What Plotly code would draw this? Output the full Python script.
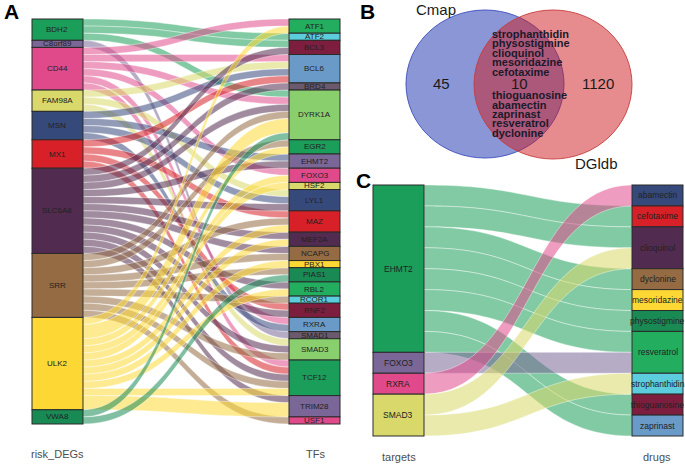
import plotly.graph_objects as go

W, H = 685, 466
FONT = "Liberation Sans, Arial, sans-serif"

# ---------------- palette (cycled over nodes) ----------------
PAL = ["#1B9E5A", "#7A6797", "#E04A8B", "#D9D86A", "#36497B", "#D72027",
       "#522B50", "#946B43", "#FDD835", "#1A8A55", "#22AD5F", "#5BCDDD",
       "#7E1E3F", "#6A9BC8", "#6B5A6E", "#8ACF6E"]

# ---------------- Panel A data ----------------
risk_degs = ["BDH2", "C8orf89", "CD44", "FAM98A", "MSN", "MX1", "SLC6A8", "SRR", "ULK2", "VWA8"]
tfs = ["ATF1", "ATF2", "BCL3", "BCL6", "BRD4", "DYRK1A", "EGR2", "EHMT2", "FOXO3", "HSF2",
       "LYL1", "MAZ", "MEF2A", "NCAPG", "PBX1", "PIAS1", "RBL2", "RCOR1", "RNF2", "RXRA",
       "SMAD1", "SMAD3", "TCF12", "TRIM28", "USF1"]

a_src = (["BDH2"] * 3 + ["C8orf89"] + ["CD44"] * 6 + ["FAM98A"] * 3 + ["MSN"] * 4 +
         ["MX1"] * 4 + ["SLC6A8"] * 12 + ["SRR"] * 9 + ["ULK2"] * 11 + ["VWA8"] * 2)
a_tgt = ["ATF2", "BCL3", "DYRK1A",
         "SMAD1",
         "ATF1", "BCL6", "DYRK1A", "FOXO3", "RXRA", "TCF12",
         "BCL6", "LYL1", "SMAD3",
         "BCL6", "EHMT2", "LYL1", "RXRA",
         "BCL6", "MAZ", "RNF2", "TCF12",
         "BCL3", "BRD4", "DYRK1A", "EHMT2", "LYL1", "MEF2A", "NCAPG", "RBL2", "RNF2", "SMAD3", "TCF12", "TRIM28",
         "DYRK1A", "EGR2", "MAZ", "NCAPG", "PIAS1", "RCOR1", "SMAD3", "TCF12", "USF1",
         "ATF1", "DYRK1A", "EGR2", "FOXO3", "HSF2", "MAZ", "MEF2A", "PBX1", "RBL2", "TCF12", "TRIM28",
         "DYRK1A", "PIAS1"]
a_val = ([1] * 3 + [1] + [1] * 6 + [1] * 3 + [1] * 4 + [1] * 4 + [1] * 12 + [1] * 9 +
         [1, 2, 1, 1, 1, 1, 1, 1, 1, 1, 2] + [1] * 2)

# ---------------- Panel C data ----------------
targets = ["EHMT2", "FOXO3", "RXRA", "SMAD3"]
drugs = ["abamectin", "cefotaxime", "clioquinol", "dyclonine", "mesoridazine",
         "physostigmine", "resveratrol", "strophanthidin", "thioguanosine", "zaprinast"]
c_src = ["EHMT2"] * 8 + ["FOXO3", "RXRA", "SMAD3", "SMAD3"]
c_tgt = ["cefotaxime", "clioquinol", "dyclonine", "mesoridazine", "physostigmine",
         "resveratrol", "thioguanosine", "zaprinast",
         "resveratrol", "abamectin", "clioquinol", "strophanthidin"]
c_val = [1] * 12

# ---------------- Panel B data ----------------
venn_sets = ["Cmap", "DGldb"]
venn_counts = [45, 10, 1120]   # Cmap only, shared, DGldb only
shared_drugs = ["strophanthidin", "physostigmine", "clioquinol", "mesoridazine", "cefotaxime",
                "thioguanosine", "abamectin", "zaprinast", "resveratrol", "dyclonine"]


def rgba(hexc, a):
    h = hexc.lstrip("#")
    r, g, b = int(h[0:2], 16), int(h[2:4], 16), int(h[4:6], 16)
    return f"rgba({r},{g},{b},{a})"


def build_sankey(left, right, ls, lt, lv, box, thick, label_size, link_alpha):
    x0, x1, y0, y1 = box
    wpx, hpx = x1 - x0, y1 - y0
    names = left + right
    idx = {n: i for i, n in enumerate(names)}
    colors = [PAL[i % len(PAL)] for i in range(len(names))]
    lval = [sum(v for s, v in zip(ls, lv) if s == n) for n in left]
    rval = [sum(v for t, v in zip(lt, lv) if t == n) for n in right]
    total = float(sum(lval))

    def centers(vals):
        out, acc = [], 0
        for v in vals:
            out.append((acc + v / 2.0) / total)
            acc += v
        return out

    ny = centers(lval) + centers(rval)
    nx = [(thick / 2.0) / wpx] * len(left) + [1 - (thick / 2.0) / wpx] * len(right)
    trace = go.Sankey(
        domain=dict(x=[x0 / W, x1 / W], y=[1 - y1 / H, 1 - y0 / H]),
        arrangement="fixed",
        hoverinfo="none",
        node=dict(label=[""] * len(names), x=nx, y=ny, pad=0, thickness=thick,
                  color=colors, line=dict(color="#2a2a2a", width=1),
                  hoverinfo="none"),
        link=dict(source=[idx[s] for s in ls], target=[idx[t] for t in lt], value=lv,
                  color=[rgba(colors[idx[s]], link_alpha) for s in ls],
                  line=dict(color="white", width=0.4), hoverinfo="none"),
    )
    anns = []
    for i, n in enumerate(names):
        anns.append(dict(x=(x0 + nx[i] * wpx) / W, y=1 - (y0 + ny[i] * hpx) / H,
                         xref="paper", yref="paper", text=n, showarrow=False,
                         xanchor="center", yanchor="middle",
                         font=dict(family=FONT, size=label_size, color="#222222")))
    return trace, anns


trA, annA = build_sankey(risk_degs, tfs, a_src, a_tgt, a_val, (32, 340, 19, 424), 51, 8, 0.55)
trC, annC = build_sankey(targets, drugs, c_src, c_tgt, c_val, (373, 683, 185, 436), 51, 8.5, 0.55)

fig = go.Figure([trA, trC])

annotations = annA + annC


def pa(x, y, text, size, color="#000000", bold=False, xanchor="center", fam=FONT):
    return dict(x=x / W, y=1 - y / H, xref="paper", yref="paper",
                text=f"<b>{text}</b>" if bold else text, showarrow=False,
                xanchor=xanchor, yanchor="middle",
                font=dict(family=fam, size=size, color=color))


# panel letters
annotations += [pa(11, 12, "A", 21, bold=True), pa(367, 12, "B", 21, bold=True),
                pa(363, 180, "C", 21, bold=True)]
# axis-style labels
annotations += [pa(57, 454, "risk_DEGs", 11, "#4d4d4d"), pa(315, 454, "TFs", 11, "#4d4d4d"),
                pa(399, 457, "targets", 11, "#4d4d4d"), pa(657, 457, "drugs", 11, "#4d4d4d")]
# Venn labels
annotations += [pa(436, 9, venn_sets[0], 15, "#1a1a1a"), pa(596, 163, venn_sets[1], 15, "#1a1a1a"),
                pa(441, 84, str(venn_counts[0]), 15, "#1a1a1a"),
                pa(519, 84, str(venn_counts[1]), 15, "#1a1a1a"),
                pa(598, 84, str(venn_counts[2]), 15, "#1a1a1a")]
line_y = [34, 43, 53, 62, 72, 95, 105, 114, 123, 133]
for name, yy in zip(shared_drugs, line_y):
    annotations.append(pa(490, yy, name, 11, "#1c1a2a", bold=True, xanchor="left"))

shapes = [
    dict(type="circle", xref="paper", yref="paper", x0=406 / W, x1=564 / W,
         y0=1 - 158 / H, y1=1 - 10 / H, fillcolor="rgba(24,46,175,0.5)",
         line=dict(color="rgba(60,75,190,0.9)", width=1), layer="below"),
    dict(type="circle", xref="paper", yref="paper", x0=474 / W, x1=632 / W,
         y0=1 - 159 / H, y1=1 - 10 / H, fillcolor="rgba(205,25,30,0.5)",
         line=dict(color="rgba(200,60,60,0.9)", width=1), layer="below"),
]

fig.update_layout(width=W, height=H, margin=dict(l=0, r=0, t=0, b=0),
                  paper_bgcolor="white", plot_bgcolor="white",
                  annotations=annotations, shapes=shapes,
                  font=dict(family=FONT))
fig.write_html("out.html", config={"displayModeBar": False},
               post_script="document.body.style.margin='0';document.body.style.padding='0';")
